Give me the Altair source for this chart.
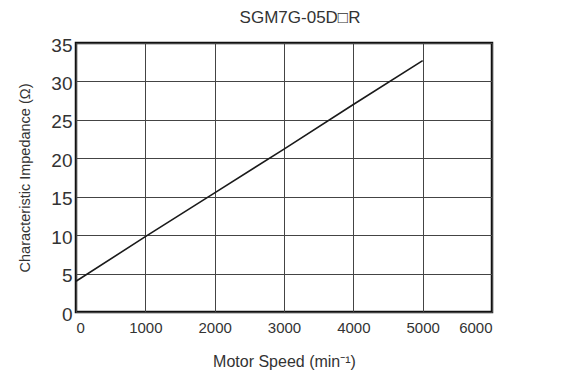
import altair as alt
import pandas as pd

speed = [0, 1000, 2000, 3000, 4000, 5000]
impedance = [4.0, 9.8, 15.5, 21.2, 27.0, 32.7]
x_ticks = [0, 1000, 2000, 3000, 4000, 5000, 6000]
y_ticks = [0, 5, 10, 15, 20, 25, 30, 35]

df = pd.DataFrame({"speed": speed, "imp": impedance})

FONT = "Liberation Sans"

chart = alt.Chart(df).mark_line(color="#1a1a1a", strokeWidth=1.6).encode(
    x=alt.X("speed:Q",
            scale=alt.Scale(domain=[0, 6000], nice=False),
            axis=alt.Axis(values=x_ticks, format="d", title="Motor Speed (min\u207b\u00b9)",
                          grid=True, ticks=False, domain=False,
                          labelPadding=8, titlePadding=18,
                          labelFontSize=15, titleFontSize=16,
                          labelColor="#333", titleColor="#333",
                          labelFont=FONT, titleFont=FONT, titleFontWeight="normal",
                          gridColor="#444", gridWidth=1, gridOpacity=1)),
    y=alt.Y("imp:Q",
            scale=alt.Scale(domain=[0, 35], nice=False),
            axis=alt.Axis(values=y_ticks, title="Characteristic Impedance (\u03a9)",
                          grid=True, ticks=False, domain=False,
                          labelPadding=4, titlePadding=18, labelOffset=2,
                          labelFontSize=19, titleFontSize=14.5,
                          labelColor="#333", titleColor="#333",
                          labelFont=FONT, titleFont=FONT, titleFontWeight="normal",
                          gridColor="#444", gridWidth=1, gridOpacity=1)),
).properties(
    width=416, height=269,
    title=alt.TitleParams("SGM7G-05D\u25a1R", fontSize=17, font=FONT,
                          fontWeight="normal", color="#333", offset=9, dx=16),
    autosize=alt.AutoSizeParams(type="none"),
    padding={"left": 68, "top": 35, "right": 74, "bottom": 62},
).configure_view(
    stroke="#111", strokeWidth=2.5
)

chart.save("out.html", embed_options={"renderer": "svg", "actions": False})
